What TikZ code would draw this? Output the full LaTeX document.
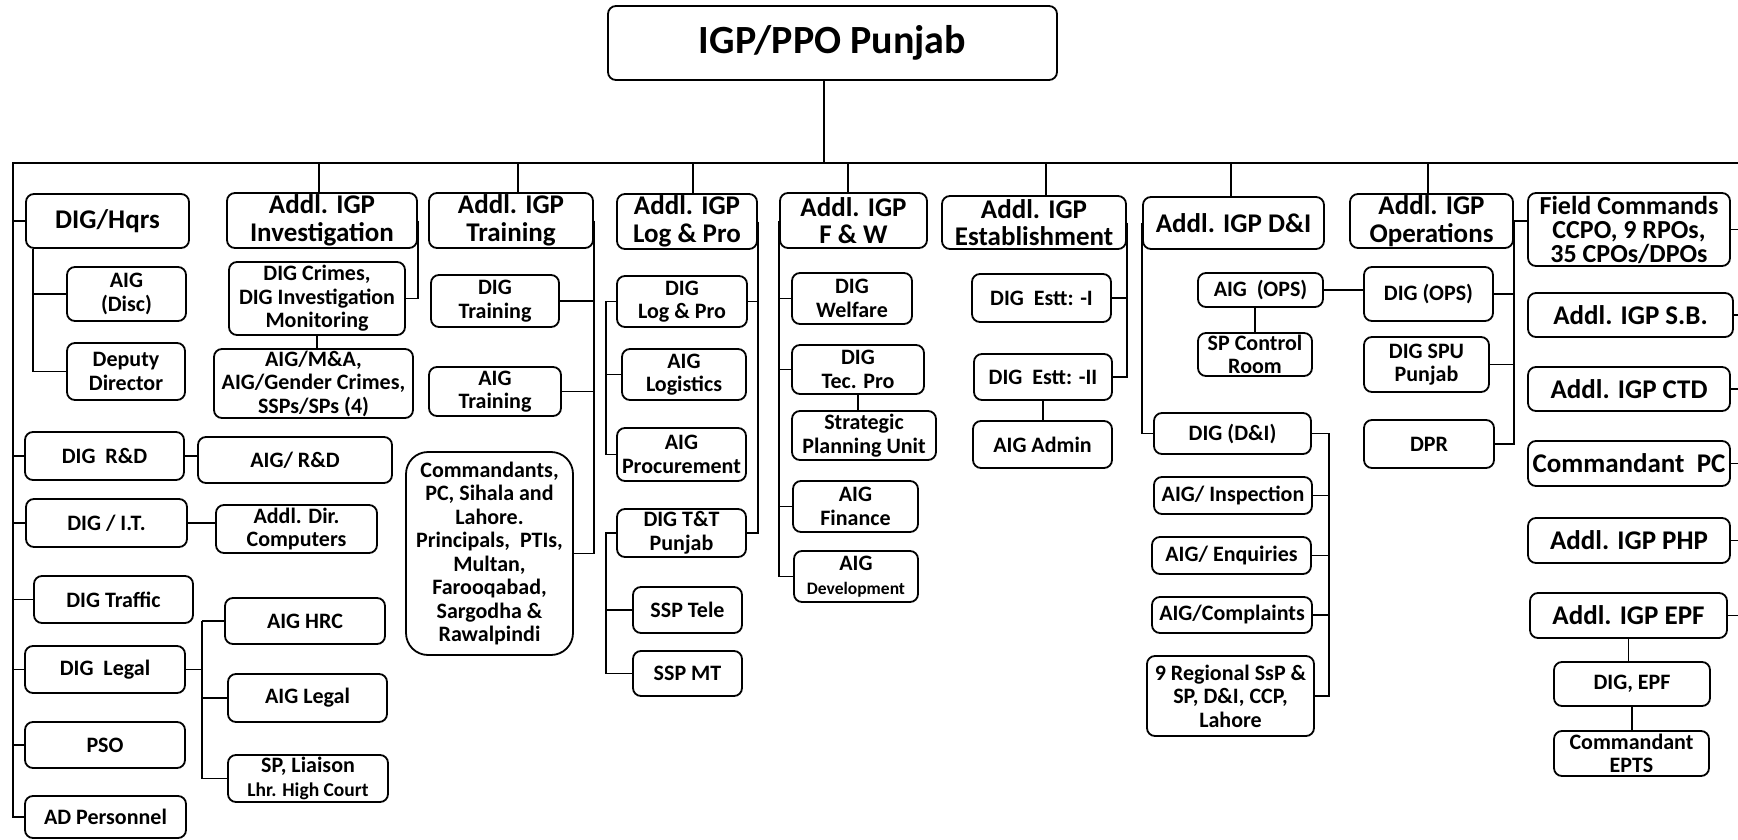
\documentclass[tikz,border=0pt]{standalone}
\usepackage{fontspec}
\setmainfont{Carlito}
\newcommand{\smf}{\bfseries\fontsize{22}{23.5}\selectfont}
\newcommand{\lgf}{\bfseries\fontsize{27}{27.5}\selectfont}
\begin{document}
\begin{tikzpicture}[x=1pt,y=-1pt,
  bx/.style={draw, line width=1.8pt, rounded corners=8pt, align=center, inner sep=1pt, font=\smf},
  big/.style={bx, font=\lgf},
  ln/.style={line width=1.8pt}]
\fill[white] (0,0) rectangle (1738,840);
\useasboundingbox (0,0) rectangle (1738,840);
% coordinates
\coordinate (busL) at (13,163);
\coordinate (busR) at (1738,163);
\coordinate (lx) at (606,0);
\coordinate (dx) at (1329,0);
% title
\node[bx, font=\bfseries\fontsize{40}{40}\selectfont, minimum width=449pt, minimum height=74pt] (top) at (832.5,43) {IGP/PPO Punjab};
% left column
\node[big, minimum width=163pt, minimum height=54pt] (hqrs) at (107.5,221) {DIG/Hqrs};
\node[bx, minimum width=119pt, minimum height=54pt] (disc) at (126.5,294) {AIG\\(Disc)};
\node[bx, minimum width=118pt, minimum height=57pt] (depdir) at (126,371.5) {Deputy\\Director};
\node[bx, minimum width=159pt, minimum height=48pt] (rnd) at (104.5,456) {DIG~~R\&D};
\node[bx, minimum width=194pt, minimum height=46pt] (aigrnd) at (295,460) {AIG/ R\&D};
\node[bx, minimum width=161pt, minimum height=48pt] (it) at (106.5,523) {DIG / I.T.};
\node[bx, minimum width=161pt, minimum height=48pt] (comp) at (296.5,529) {Addl. Dir.\\Computers};
\node[bx, minimum width=159pt, minimum height=47pt] (traffic) at (113.5,599.5) {DIG Traffic};
\node[bx, minimum width=160pt, minimum height=46pt] (hrc) at (305,621) {AIG HRC};
\node[bx, minimum width=160pt, minimum height=47pt] (legal) at (105,669.5) {DIG~~Legal};
\node[bx, minimum width=159pt, minimum height=48pt] (aiglegal) at (307.5,698) {AIG Legal};
\node[bx, minimum width=160pt, minimum height=47pt] (liaison) at (308,778.5) {SP, Liaison\\{\fontsize{19.5}{20}\selectfont Lhr. High Court}};
\node[bx, minimum width=160pt, minimum height=46pt] (pso) at (105,745) {PSO};
\node[bx, minimum width=161pt, minimum height=42pt] (adp) at (105.5,817) {AD Personnel};
% investigation
\node[big, minimum width=190pt, minimum height=55pt] (inv) at (322,220.5) {Addl. IGP\\Investigation};
\node[bx, minimum width=176pt, minimum height=73pt] (crimes) at (317,298.5) {DIG Crimes,\\DIG Investigation\\Monitoring};
\node[bx, minimum width=199pt, minimum height=69pt] (mna) at (313.5,383.5) {AIG/M\&A,\\AIG/Gender Crimes,\\SSPs/SPs (4)};
% training
\node[big, minimum width=164pt, minimum height=55pt] (trn) at (511,220.5) {Addl. IGP\\Training};
\node[bx, minimum width=128pt, minimum height=52pt] (digtrn) at (495,301) {DIG\\Training};
\node[bx, minimum width=132pt, minimum height=49pt] (aigtrn) at (495,391.5) {AIG\\Training};
\node[bx, rounded corners=22pt, minimum width=167pt, minimum height=203pt] (cmdts) at (489.5,553.5) {Commandants,\\PC, Sihala and\\Lahore.\\Principals,~~PTIs,\\Multan,\\Farooqabad,\\Sargodha \&\\Rawalpindi};
% log & pro
\node[big, minimum width=140pt, minimum height=55pt] (log) at (687,221.5) {Addl. IGP\\Log \& Pro};
\node[bx, minimum width=130pt, minimum height=51pt] (diglog) at (682,301.5) {DIG\\Log \& Pro};
\node[bx, minimum width=124pt, minimum height=51pt] (aiglog) at (684,374.5) {AIG\\Logistics};
\node[bx, minimum width=129pt, minimum height=53pt] (aigproc) at (681.5,454.5) {AIG\\Procurement};
\node[bx, minimum width=129pt, minimum height=48pt] (digtt) at (681.5,533) {DIG T\&T\\Punjab};
\node[bx, minimum width=109pt, minimum height=46pt] (ssptele) at (687.5,610) {SSP Tele};
\node[bx, minimum width=109pt, minimum height=45pt] (sspmt) at (687.5,673.5) {SSP MT};
% f & w
\node[big, minimum width=147pt, minimum height=55pt] (fw) at (853.5,220.5) {Addl. IGP\\F \& W};
\node[bx, minimum width=120pt, minimum height=51pt] (welfare) at (852,298.5) {DIG\\Welfare};
\node[bx, minimum width=132pt, minimum height=49pt] (tecpro) at (858,369.5) {DIG\\Tec. Pro};
\node[bx, minimum width=144pt, minimum height=49pt] (spu) at (864,435.5) {Strategic\\Planning Unit};
\node[bx, minimum width=125pt, minimum height=51pt] (finance) at (855.5,506.5) {AIG\\Finance};
\node[bx, minimum width=124pt, minimum height=51pt] (dev) at (856,576.5) {AIG\\{\fontsize{17.5}{19}\selectfont Development}};
% establishment
\node[big, minimum width=184pt, minimum height=53pt] (estt) at (1034,222.5) {Addl. IGP\\Establishment};
\node[bx, minimum width=139pt, minimum height=48pt] (estt1) at (1041.5,298) {DIG~~Estt: -I};
\node[bx, minimum width=138pt, minimum height=46pt] (estt2) at (1043,377) {DIG~~Estt: -II};
\node[bx, minimum width=139pt, minimum height=47pt] (admin) at (1042.5,444.5) {AIG Admin};
% D&I
\node[big, minimum width=181pt, minimum height=52pt] (dni) at (1233.5,223) {Addl. IGP D\&I};
\node[bx, minimum width=125pt, minimum height=34pt] (aigops) at (1260.5,290) {AIG~~(OPS)};
\node[bx, minimum width=114pt, minimum height=43pt] (spctrl) at (1255,354.5) {SP Control\\Room};
\node[bx, minimum width=157pt, minimum height=41pt] (digdni) at (1232.5,433.5) {DIG (D\&I)};
\node[bx, minimum width=158pt, minimum height=37pt] (insp) at (1233,495.5) {AIG/ Inspection};
\node[bx, minimum width=159pt, minimum height=37pt] (enq) at (1231.5,555.5) {AIG/ Enquiries};
\node[bx, minimum width=160pt, minimum height=36pt] (compl) at (1232,615) {AIG/Complaints};
\node[bx, minimum width=167pt, minimum height=80pt] (regional) at (1230.5,696) {9 Regional SsP \&\\SP, D\&I, CCP,\\Lahore};
% operations
\node[big, minimum width=163pt, minimum height=54pt] (ops) at (1431.5,221) {Addl. IGP\\Operations};
\node[bx, minimum width=129pt, minimum height=54pt] (digops) at (1428.5,294) {DIG (OPS)};
\node[bx, minimum width=125pt, minimum height=55pt] (digspu) at (1426.5,364.5) {DIG SPU\\Punjab};
\node[bx, minimum width=130pt, minimum height=48pt] (dpr) at (1429,444) {DPR};
% right column
\node[bx, font=\bfseries\fontsize{26}{24}\selectfont, minimum width=202pt, minimum height=73pt] (field) at (1629,229.5) {Field Commands\\CCPO, 9 RPOs,\\35 CPOs/DPOs};
\node[big, minimum width=205pt, minimum height=44pt] (sb) at (1630.5,315) {Addl. IGP S.B.};
\node[big, minimum width=202pt, minimum height=44pt] (ctd) at (1629,389) {Addl. IGP CTD};
\node[big, minimum width=202pt, minimum height=45pt] (pc) at (1629,463.5) {Commandant~~PC};
\node[big, minimum width=202pt, minimum height=45pt] (php) at (1629,540.5) {Addl. IGP PHP};
\node[big, minimum width=197pt, minimum height=45pt] (epf) at (1628.5,615.5) {Addl. IGP EPF};
\node[bx, minimum width=156pt, minimum height=44pt] (digepf) at (1632,684) {DIG, EPF};
\node[bx, minimum width=155pt, minimum height=45pt] (epts) at (1631.5,753.5) {Commandant\\EPTS};
% ---------------- connectors
\begin{scope}[ln]
\draw ([xshift=-8.5pt]top.south) -- ([xshift=-8.5pt]top.south |- busL);
\draw (busR) -- (busL) -- (busL |- adp.west) -- (adp.west);
\foreach \n in {hqrs,rnd,it,traffic,legal,pso}
  \draw (busL |- \n.west) -- (\n.west);
\foreach \n/\s in {inv/-3,trn/7,log/6,fw/-5.5,estt/12,dni/-2.5,ops/-3.5}
  \draw ([xshift=\s pt]\n.north) -- ([xshift=\s pt]\n.north |- busL);
% hqrs
\draw ([xshift=8pt]hqrs.south west) |- (depdir.west);
\draw ([xshift=8pt]hqrs.south west |- disc.west) -- (disc.west);
\draw (rnd.east) -- (aigrnd.west |- rnd.east);
\draw (it.east) -- (comp.west |- it.east);
\draw (legal.east) -- ++(16,0) coordinate (lg);
\draw (lg |- hrc.west) -- (hrc.west);
\draw (lg |- hrc.west) |- (liaison.west);
\draw (aiglegal.west) -- (aiglegal.west -| lg);
% investigation
\draw (inv.east) |- (crimes.east);
\draw (crimes.south) -- (crimes.south |- mna.north);
% training
\draw (trn.east) |- (cmdts.east);
\draw (digtrn.east) -- (digtrn.east -| trn.east);
\draw (aigtrn.east) -- (aigtrn.east -| trn.east);
% log & pro
\draw (log.east) |- (digtt.east);
\draw (diglog.east) -- (diglog.east -| log.east);
\draw (diglog.west) -- (diglog.west -| lx) |- (aigproc.west);
\draw (aiglog.west) -- (aiglog.west -| lx);
\draw (digtt.west) -- (digtt.west -| lx) |- (sspmt.west);
\draw (ssptele.west) -- (ssptele.west -| lx);
% f & w
\draw (fw.west) |- (dev.west);
\foreach \n in {welfare,tecpro,finance}
  \draw (\n.west) -- (\n.west -| fw.west);
\draw (tecpro.south) -- (tecpro.south |- spu.north);
% establishment
\draw (estt.east) |- (estt2.east);
\draw (estt1.east) -- (estt1.east -| estt.east);
\draw (estt2.south) -- (estt2.south |- admin.north);
% D&I
\draw (dni.west) |- (digdni.west);
\draw (aigops.east) -- (aigops.east -| digops.west);
\draw (spctrl.north) -- (spctrl.north |- aigops.south);
\draw (digdni.east) -- (digdni.east -| dx) |- (regional.east);
\foreach \n in {insp,enq,compl}
  \draw (\n.east) -- (\n.east -| dx);
% operations
\draw (ops.east) |- (dpr.east);
\draw (digops.east) -- (digops.east -| ops.east);
\draw (digspu.east) -- (digspu.east -| ops.east);
\draw (ops.east) -- (ops.east -| field.west);
% right column
\foreach \n in {field,sb,ctd,pc,php,epf}
  \draw (\n.east) -- (\n.east -| busR);
\draw (epf.south) -- (epf.south |- digepf.north);
\draw (digepf.south) -- (digepf.south |- epts.north);
\end{scope}
\end{tikzpicture}
\end{document}
